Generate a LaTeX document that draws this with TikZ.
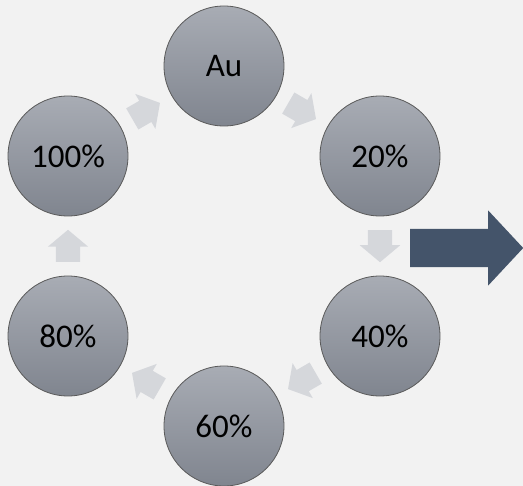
\documentclass[tikz,border=0pt]{standalone}
\usepackage{fontspec}
\setmainfont{Carlito}
\usepackage{xcolor}
\usetikzlibrary{shapes.arrows, calc}

\definecolor{bgcol}{HTML}{F2F2F2}
\definecolor{ringtop}{HTML}{A8ACB4}
\definecolor{ringbot}{HTML}{80858F}
\definecolor{ringline}{HTML}{5A5A5A}
\definecolor{flowcol}{HTML}{D5D7DB}
\definecolor{slate}{HTML}{44546A}

\begin{document}
\begin{tikzpicture}[
  x=1pt, y=-1pt,
  stage/.style={circle, draw=ringline, line width=0.8pt, minimum size=120pt, inner sep=0pt,
    top color=ringtop, bottom color=ringbot, font=\fontsize{33}{38}\selectfont},
  flow/.style={single arrow, fill=flowcol, draw=none, anchor=tail, inner xsep=0pt, inner ysep=12pt,
    minimum height=32pt, single arrow head extend=8pt, single arrow tip angle=100},
  bigarrow/.style={single arrow, fill=slate, draw=none, anchor=tail, inner xsep=0pt, inner ysep=19pt,
    minimum height=113pt, single arrow head extend=18.5pt, single arrow tip angle=94}
]
\fill[bgcol] (0,0) rectangle (523,486);
\useasboundingbox (0,0) rectangle (523,486);

% Stages around the ring
\node[stage] (au) at (224,66) {Au};
\node[stage] (p20) at (380,156) {20\%};
\node[stage] (p40) at (380,336) {40\%};
\node[stage] (p60) at (224,426) {60\%};
\node[stage] (p80) at (68,336) {80\%};
\node[stage] (p100) at (68,156) {100\%};

% Block arrows between stages
\node[flow, rotate=-30] (f1) at ($(au)!74pt!(p20)$) {};
\node[flow, rotate=-90] (f2) at ($(p20)!74pt!(p40)$) {};
\node[flow, rotate=-150] (f3) at ($(p40)!74pt!(p60)$) {};
\node[flow, rotate=150] (f4) at ($(p60)!74pt!(p80)$) {};
\node[flow, rotate=90] (f5) at ($(p80)!74pt!(p100)$) {};
\node[flow, rotate=30] (f6) at ($(p100)!74pt!(au)$) {};

% Output arrow
\coordinate (out) at (410,248);
\node[bigarrow] (big) at (out) {};
\end{tikzpicture}
\end{document}
